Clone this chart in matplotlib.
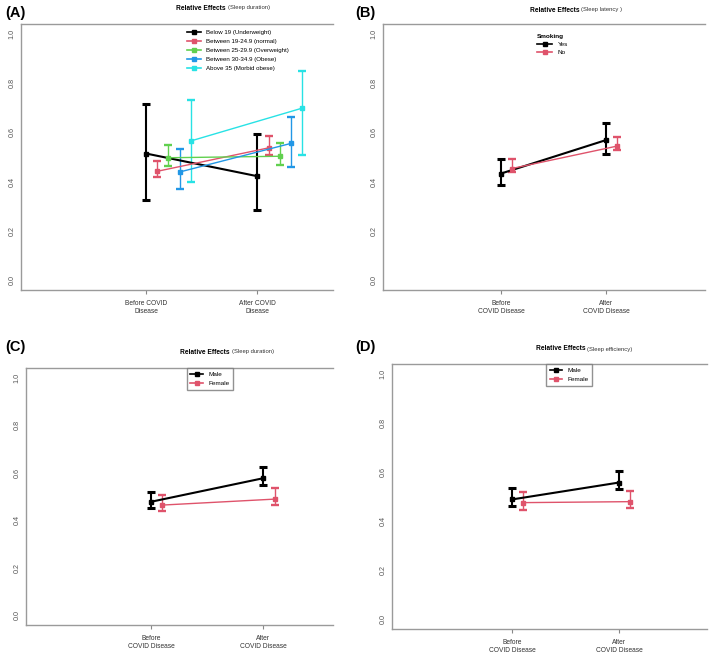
import numpy as np
import matplotlib
matplotlib.use("Agg")
import matplotlib.pyplot as plt
from matplotlib.lines import Line2D

plt.rcParams["font.family"] = ["Liberation Sans", "DejaVu Sans"]

# ---- data ----
times = ["Before COVID\nDisease", "After COVID\nDisease"]
times2 = ["Before\nCOVID Disease", "After\nCOVID Disease"]

# (A) BMI groups, sleep duration
bmi_labels = ["Below 19 (Underweight)", "Between 19-24.9 (normal)",
              "Between 25-29.9 (Overweight)", "Between 30-34.9 (Obese)",
              "Above 35 (Morbid obese)"]
bmi_mean = [[0.514, 0.422], [0.442, 0.537], [0.497, 0.503], [0.439, 0.555], [0.565, 0.698]]
bmi_low = [[0.327, 0.283], [0.419, 0.507], [0.463, 0.468], [0.371, 0.460], [0.397, 0.509]]
bmi_high = [[0.714, 0.592], [0.483, 0.585], [0.548, 0.555], [0.531, 0.664], [0.732, 0.850]]

# (B) smoking, sleep latency
smk_labels = ["Yes", "No"]
smk_mean = [[0.433, 0.569], [0.453, 0.544]]
smk_low = [[0.388, 0.514], [0.440, 0.527]]
smk_high = [[0.490, 0.637], [0.490, 0.581]]

# (C) sex, sleep duration
sex_labels = ["Male", "Female"]
dur_mean = [[0.478, 0.577], [0.464, 0.489]]
dur_low = [[0.453, 0.548], [0.438, 0.464]]
dur_high = [[0.520, 0.622], [0.506, 0.534]]

# (D) sex, sleep efficiency
eff_mean = [[0.488, 0.557], [0.475, 0.479]]
eff_low = [[0.461, 0.529], [0.447, 0.452]]
eff_high = [[0.533, 0.602], [0.517, 0.522]]

colors = ["#000000", "#DF536B", "#61D04F", "#2297E6", "#28E2E5"]
W, H = 709, 664
fig = plt.figure(figsize=(W / 100, H / 100), dpi=100)


def add_ax(l, r, t, b):
    return fig.add_axes([l / W, 1 - b / H, (r - l) / W, (b - t) / H])


def panel(ax, means, lows, highs, xlim, xt):
    for i, (m, lo, hi) in enumerate(zip(means, lows, highs)):
        x = np.array([1, 2]) + 0.1 * i
        m = np.array(m)
        err = [m - np.array(lo), np.array(hi) - m]
        lw = 1.5 if i == 0 else 1.0
        ax.errorbar(x, m, yerr=err, color=colors[i], lw=lw, elinewidth=lw,
                    capsize=3.0, capthick=lw + 0.7, marker="s", ms=2.8)
    ax.set_xlim(*xlim)
    ax.set_ylim(-0.04, 1.04)
    ax.set_xticks([1, 2])
    ax.set_xticklabels(xt, fontsize=4.8, color="#333333", linespacing=1.35)
    ax.set_yticks(np.arange(0, 1.01, 0.2))
    ax.set_yticklabels([f"{v:.1f}" for v in np.arange(0, 1.01, 0.2)],
                       rotation=90, va="center", fontsize=5.2, color="#555555")
    ax.tick_params(axis="y", length=0, pad=4)
    ax.tick_params(axis="x", length=3, color="#888888", pad=4)
    ax.spines["right"].set_visible(False)
    for s in ["left", "top", "bottom"]:
        ax.spines[s].set_color("#9a9a9a")
        ax.spines[s].set_linewidth(1.0)


def handles(n):
    return [Line2D([0], [0], color=colors[i], marker="s", ms=2.5, lw=1.2) for i in range(n)]


def title(x, y, what):
    fig.text(x / W, 1 - y / H, "Relative Effects ", fontsize=4.8, fontweight="bold",
             ha="right", va="center")
    fig.text(x / W, 1 - y / H, what, fontsize=4.2, ha="left", va="center", color="#333333")


# (A)
axA = add_ax(21, 333, 24, 290)
panel(axA, bmi_mean, bmi_low, bmi_high, (-0.126, 2.68), times)
axA.legend(handles(5), bmi_labels, loc="upper left", bbox_to_anchor=(0.515, 1.0),
           frameon=False, fontsize=4.4, handlelength=2.2, labelspacing=0.6,
           borderaxespad=0.55)
title(228, 8, "(Sleep duration)")

# (B)
axB = add_ax(383, 705, 24, 290)
panel(axB, smk_mean, smk_low, smk_high, (-0.124, 2.94), times2)
legB = axB.legend(handles(2), smk_labels, loc="upper left", bbox_to_anchor=(0.46, 0.985),
                  frameon=False, fontsize=4.6, handlelength=2.4, labelspacing=0.4,
                  title="Smoking", title_fontproperties={"size": 4.6, "weight": "bold"})
legB._legend_box.align = "left"
title(581, 10, "(Sleep latency )")

# (C)
axC = add_ax(26, 333, 368, 625)
panel(axC, dur_mean, dur_low, dur_high, (-0.116, 2.62), times2)
axC.legend(handles(2), sex_labels, loc="upper left", bbox_to_anchor=(0.523, 1.0),
           frameon=True, fancybox=False, edgecolor="#777777", fontsize=4.6,
           handlelength=2.0, labelspacing=0.55, borderpad=0.6, borderaxespad=0)
title(232, 352, "(Sleep duration)")

# (D)
axD = add_ax(392, 707, 364, 629)
panel(axD, eff_mean, eff_low, eff_high, (-0.12, 2.82), times2)
axD.legend(handles(2), sex_labels, loc="upper left", bbox_to_anchor=(0.488, 1.0),
           frameon=True, fancybox=False, edgecolor="#777777", fontsize=4.6,
           handlelength=2.0, labelspacing=0.55, borderpad=0.6, borderaxespad=0)
title(587, 349, "(Sleep efficiency)")

# panel letters
for lab, x, y in [("(A)", 5, 13), ("(B)", 355, 13), ("(C)", 5, 347), ("(D)", 355, 347)]:
    fig.text(x / W, 1 - y / H, lab, fontsize=10.5, fontweight="bold", va="center", ha="left")

fig.savefig("out.png", dpi=100, facecolor="white")
